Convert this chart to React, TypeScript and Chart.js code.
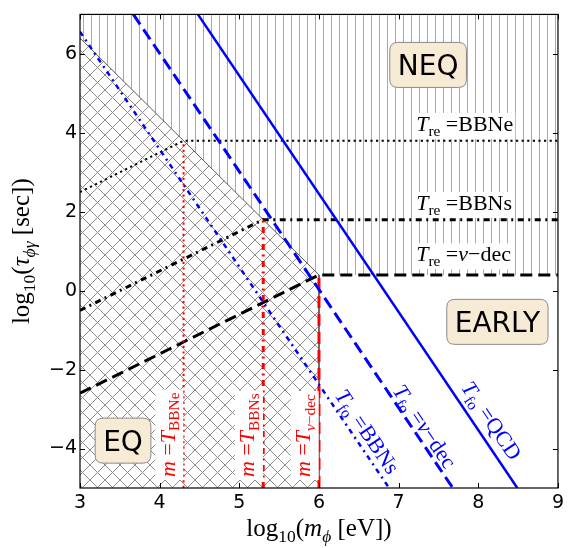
import React, { useEffect, useRef } from "react";
import { Chart, registerables } from "chart.js";

Chart.register(...registerables);

// ---------------- data ----------------
const xTicks = [3, 4, 5, 6, 7, 8, 9];
const xTickLabels = ["3", "4", "5", "6", "7", "8", "9"];
const yTicks = [-4, -2, 0, 2, 4, 6];
const yTickLabels = ["−4", "−2", "0", "2", "4", "6"];

// EQ / NEQ boundary
const eqEdgeX = [3, 6, 6];
const eqEdgeY = [6.4, 0.4, -5];
const eqFillX = [3, 6];
const eqFillY = [6.4, 0.4];
const neqFillX = [3, 6, 9];
const neqFillY = [6.4, 0.4, 0.4];

// T_re lines (black)
const treBBNeX = [3, 4.3, 9];
const treBBNeY = [2.5, 3.8, 3.8];
const treBBNsX = [3, 5.3, 9];
const treBBNsY = [-0.5, 1.8, 1.8];
const treNuDecX = [3, 6, 9];
const treNuDecY = [-2.6, 0.4, 0.4];

// m = T lines (red)
const mBBNeX = [4.3, 4.3];
const mBBNeY = [-5, 3.8];
const mBBNsX = [5.3, 5.3];
const mBBNsY = [-5, 1.8];
const mNuDecX = [6, 6];
const mNuDecY = [-5, 0.4];

// T_fo lines (blue)
const foBBNsX = [3, 6.88];
const foBBNsY = [6.56, -5];
const foNuDecX = [3.67, 7.68];
const foNuDecY = [7, -5];
const foQCDX = [4.48, 8.49];
const foQCDY = [7, -5];

// ---------------- helpers ----------------
const SERIF = '"Liberation Serif", "DejaVu Serif", serif';
const SANS = '"DejaVu Sans", sans-serif';

type Seg = { t: string; it?: boolean; sub?: boolean };

const pts = (xs: number[], ys: number[]) => xs.map((x, i) => ({ x, y: ys[i] }));

function segFont(s: Seg, size: number, fam: string) {
  const sz = s.sub ? size * 0.7 : size;
  return `${s.it ? "italic " : ""}${sz}px ${fam}`;
}

function richWidth(ctx: CanvasRenderingContext2D, segs: Seg[], size: number, fam: string) {
  let w = 0;
  for (const s of segs) {
    ctx.font = segFont(s, size, fam);
    w += ctx.measureText(s.t).width;
  }
  return w;
}

type RichOpts = {
  size: number;
  fam?: string;
  color: string;
  angle?: number;
  align?: "left" | "center";
  vcenter?: boolean;
  bg?: string;
  pad?: number;
};

function drawRich(ctx: CanvasRenderingContext2D, segs: Seg[], x: number, y: number, o: RichOpts) {
  const fam = o.fam || SERIF;
  const size = o.size;
  ctx.save();
  ctx.translate(x, y);
  ctx.rotate(o.angle || 0);
  const W = richWidth(ctx, segs, size, fam);
  const x0 = o.align === "center" ? -W / 2 : 0;
  const base = o.vcenter ? size * 0.3 : 0;
  if (o.bg) {
    const p = o.pad ?? 2;
    ctx.fillStyle = o.bg;
    ctx.fillRect(x0 - p, base - size * 0.74 - p, W + 2 * p, size * 1.0 + 2 * p);
  }
  ctx.fillStyle = o.color;
  ctx.textAlign = "left";
  ctx.textBaseline = "alphabetic";
  let cx = x0;
  for (const s of segs) {
    ctx.font = segFont(s, size, fam);
    ctx.fillText(s.t, cx, base + (s.sub ? size * 0.22 : 0));
    cx += ctx.measureText(s.t).width;
  }
  ctx.restore();
}

function roundRect(ctx: CanvasRenderingContext2D, x: number, y: number, w: number, h: number, r: number) {
  ctx.beginPath();
  ctx.moveTo(x + r, y);
  ctx.lineTo(x + w - r, y);
  ctx.quadraticCurveTo(x + w, y, x + w, y + r);
  ctx.lineTo(x + w, y + h - r);
  ctx.quadraticCurveTo(x + w, y + h, x + w - r, y + h);
  ctx.lineTo(x + r, y + h);
  ctx.quadraticCurveTo(x, y + h, x, y + h - r);
  ctx.lineTo(x, y + r);
  ctx.quadraticCurveTo(x, y, x + r, y);
  ctx.closePath();
}

// annotation texts
const regionLabels = [
  { text: "NEQ", x: 7.37, y: 5.72 },
  { text: "EARLY", x: 8.24, y: -0.79 },
  { text: "EQ", x: 3.54, y: -3.8 },
];

const treLabels: { segs: Seg[]; x: number; y: number }[] = [
  { segs: [{ t: "T", it: true }, { t: "re", sub: true }, { t: " =BBNe" }], x: 7.22, y: 4.04 },
  { segs: [{ t: "T", it: true }, { t: "re", sub: true }, { t: " =BBNs" }], x: 7.22, y: 2.04 },
  {
    segs: [{ t: "T", it: true }, { t: "re", sub: true }, { t: " =" }, { t: "ν", it: true }, { t: "−dec" }],
    x: 7.22,
    y: 0.74,
  },
];

const mLabels: { segs: Seg[]; lineX: number }[] = [
  { segs: [{ t: "m", it: true }, { t: " =" }, { t: "T", it: true }, { t: "BBNe", sub: true }], lineX: 4.3 },
  { segs: [{ t: "m", it: true }, { t: " =" }, { t: "T", it: true }, { t: "BBNs", sub: true }], lineX: 5.3 },
  {
    segs: [{ t: "m", it: true }, { t: " =" }, { t: "T", it: true }, { t: "ν", it: true, sub: true }, { t: "−dec", sub: true }],
    lineX: 6,
  },
];

const foLabels: { segs: Seg[]; x: number; y: number; lx: number[]; ly: number[] }[] = [
  { segs: [{ t: "T", it: true }, { t: "fo", sub: true }, { t: " =BBNs" }], x: 6.6, y: -3.58, lx: foBBNsX, ly: foBBNsY },
  {
    segs: [{ t: "T", it: true }, { t: "fo", sub: true }, { t: " =" }, { t: "ν", it: true }, { t: "−dec" }],
    x: 7.32,
    y: -3.45,
    lx: foNuDecX,
    ly: foNuDecY,
  },
  { segs: [{ t: "T", it: true }, { t: "fo", sub: true }, { t: " =QCD" }], x: 8.16, y: -3.3, lx: foQCDX, ly: foQCDY },
];

const annotPlugin = {
  id: "annot",
  afterDatasetsDraw(chart: any) {
    const ctx: CanvasRenderingContext2D = chart.ctx;
    const xs = chart.scales.x;
    const ys = chart.scales.y;
    const a = chart.chartArea;
    const px = (v: number) => xs.getPixelForValue(v);
    const py = (v: number) => ys.getPixelForValue(v);

    // T_re labels
    for (const L of treLabels) {
      drawRich(ctx, L.segs, px(L.x), py(L.y), { size: 22, color: "#000", bg: "#fff", pad: 2 });
    }
    // red m=T labels
    for (const L of mLabels) {
      drawRich(ctx, L.segs, px(L.lineX) - 9, a.bottom - 11, {
        size: 22,
        color: "#ff0000",
        angle: -Math.PI / 2,
        bg: "#fff",
        pad: 3,
      });
    }
    // blue T_fo labels
    for (const L of foLabels) {
      const ang = Math.atan2(py(L.ly[1]) - py(L.ly[0]), px(L.lx[1]) - px(L.lx[0]));
      drawRich(ctx, L.segs, px(L.x), py(L.y), {
        size: 22,
        color: "#0000ff",
        angle: ang,
        align: "center",
        vcenter: true,
      });
    }
    // region boxes
    for (const R of regionLabels) {
      const cx = px(R.x);
      const cy = py(R.y);
      ctx.save();
      ctx.font = `28px ${SANS}`;
      const w = ctx.measureText(R.text).width;
      const bw = w + 16;
      const bh = 45;
      roundRect(ctx, cx - bw / 2, cy - bh / 2, bw, bh, 8);
      ctx.fillStyle = "#f8ebd6";
      ctx.fill();
      ctx.strokeStyle = "#8a8a8a";
      ctx.lineWidth = 1;
      ctx.stroke();
      ctx.fillStyle = "#000";
      ctx.textAlign = "center";
      ctx.textBaseline = "alphabetic";
      ctx.fillText(R.text, cx, cy + 10.5);
      ctx.restore();
    }

    // frame and inward ticks
    ctx.save();
    ctx.strokeStyle = "#000";
    ctx.lineWidth = 1.2;
    ctx.strokeRect(a.left, a.top, a.right - a.left, a.bottom - a.top);
    ctx.lineWidth = 1;
    ctx.beginPath();
    for (const v of xTicks) {
      const x = Math.round(px(v)) + 0.5;
      ctx.moveTo(x, a.bottom);
      ctx.lineTo(x, a.bottom - 5);
      ctx.moveTo(x, a.top);
      ctx.lineTo(x, a.top + 5);
    }
    for (const v of yTicks) {
      const y = Math.round(py(v)) + 0.5;
      ctx.moveTo(a.left, y);
      ctx.lineTo(a.left + 5, y);
      ctx.moveTo(a.right, y);
      ctx.lineTo(a.right - 5, y);
    }
    ctx.stroke();
    ctx.restore();

    // axis titles
    drawRich(
      ctx,
      [{ t: "log" }, { t: "10", sub: true }, { t: "(" }, { t: "m", it: true }, { t: "ϕ", it: true, sub: true }, { t: " [eV]" }, { t: ")" }],
      (a.left + a.right) / 2,
      a.bottom + 48,
      { size: 25, color: "#000", align: "center" }
    );
    drawRich(
      ctx,
      [{ t: "log" }, { t: "10", sub: true }, { t: "(" }, { t: "τ", it: true }, { t: "ϕγ", it: true, sub: true }, { t: " [sec]" }, { t: ")" }],
      a.left - 51,
      (a.top + a.bottom) / 2,
      { size: 25, color: "#000", align: "center", angle: -Math.PI / 2 }
    );
  },
};

function makeCrossPattern(): CanvasPattern | string {
  const s = 15;
  const c = document.createElement("canvas");
  c.width = s;
  c.height = s;
  const g = c.getContext("2d");
  if (!g) return "#ccc";
  g.strokeStyle = "#8c8c8c";
  g.lineWidth = 1;
  g.beginPath();
  g.moveTo(-2, -2);
  g.lineTo(s + 2, s + 2);
  g.moveTo(s + 2, -2);
  g.lineTo(-2, s + 2);
  g.stroke();
  return g.createPattern(c, "repeat") || "#ccc";
}

function makeVertPattern(): CanvasPattern | string {
  const c = document.createElement("canvas");
  c.width = 8;
  c.height = 8;
  const g = c.getContext("2d");
  if (!g) return "#ddd";
  g.fillStyle = "#a8a8a8";
  g.fillRect(3, 0, 1, 8);
  return g.createPattern(c, "repeat") || "#ddd";
}

export default function App() {
  const ref = useRef<HTMLCanvasElement>(null);

  useEffect(() => {
    const canvas = ref.current;
    if (!canvas) return;
    const cross = makeCrossPattern();
    const vert = makeVertPattern();
    const line = (
      xs: number[],
      ys: number[],
      color: string,
      width: number,
      dash: number[],
      order: number
    ) => ({
      data: pts(xs, ys),
      borderColor: color,
      borderWidth: width,
      borderDash: dash,
      borderCapStyle: "butt",
      fill: false,
      pointRadius: 0,
      order,
    });

    const chart = new Chart(canvas, {
      type: "line",
      data: {
        datasets: [
          {
            data: pts(eqFillX, eqFillY),
            borderColor: "rgba(0,0,0,0)",
            borderWidth: 1,
            backgroundColor: cross,
            fill: "start",
            pointRadius: 0,
            order: 100,
          },
          {
            data: pts(neqFillX, neqFillY),
            borderColor: "rgba(0,0,0,0)",
            borderWidth: 1,
            backgroundColor: vert,
            fill: "end",
            pointRadius: 0,
            order: 99,
          },
          line(eqEdgeX, eqEdgeY, "#5a5a5a", 1, [], 90),
          line(treBBNeX, treBBNeY, "#000", 2, [2.2, 3.4], 50),
          line(treBBNsX, treBBNsY, "#000", 3, [6, 4.5, 2, 4.5], 49),
          line(treNuDecX, treNuDecY, "#000", 3, [12, 6], 48),
          line(mBBNeX, mBBNeY, "#ff0000", 2, [2.2, 3.4], 40),
          line(mBBNsX, mBBNsY, "#ff0000", 3, [6, 4.5, 2, 4.5], 39),
          line(mNuDecX, mNuDecY, "#ff0000", 3, [12, 6], 38),
          line(foBBNsX, foBBNsY, "#0000ff", 2.5, [5, 4.5, 2, 4.5], 30),
          line(foNuDecX, foNuDecY, "#0000ff", 3, [12, 6], 29),
          line(foQCDX, foQCDY, "#0000ff", 2.5, [], 28),
        ] as any,
      },
      options: {
        animation: false,
        responsive: false,
        maintainAspectRatio: false,
        layout: { padding: { top: 9, right: 9, left: 0, bottom: 0 } },
        plugins: { legend: { display: false }, tooltip: { enabled: false } },
        elements: { line: { tension: 0 }, point: { radius: 0 } },
        scales: {
          x: {
            type: "linear",
            min: 3,
            max: 9,
            grid: { display: false, drawTicks: false },
            border: { display: false },
            ticks: {
              padding: 4,
              color: "#000",
              font: { family: SANS, size: 19 },
              maxRotation: 0,
              autoSkip: false,
              callback: (v: any) => {
                const i = xTicks.indexOf(Number(v));
                return i >= 0 ? xTickLabels[i] : "";
              },
            },
            afterBuildTicks: (s: any) => {
              s.ticks = xTicks.map((v) => ({ value: v }));
            },
            afterFit: (s: any) => {
              s.height = 60;
            },
          },
          y: {
            type: "linear",
            min: -5,
            max: 7,
            grid: { display: false, drawTicks: false },
            border: { display: false },
            ticks: {
              padding: 3,
              color: "#000",
              font: { family: SANS, size: 19 },
              autoSkip: false,
              callback: (v: any) => {
                const i = yTicks.indexOf(Number(v));
                return i >= 0 ? yTickLabels[i] : "";
              },
            },
            afterBuildTicks: (s: any) => {
              s.ticks = yTicks.map((v) => ({ value: v }));
            },
            afterFit: (s: any) => {
              s.width = 80;
            },
          },
        },
      } as any,
      plugins: [annotPlugin as any],
    });
    return () => chart.destroy();
  }, []);

  return (
    <div style={{ position: "fixed", left: 0, top: 0, width: 568, height: 548, background: "#fff" }}>
      <canvas ref={ref} width={568} height={548} style={{ display: "block", width: 568, height: 548 }} />
    </div>
  );
}
